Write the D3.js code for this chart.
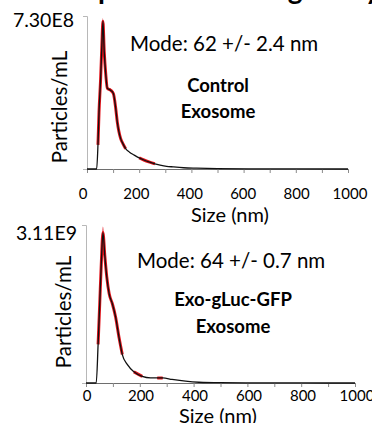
<!DOCTYPE html>
<html>
<head>
<meta charset="utf-8">
<script src="https://cdn.jsdelivr.net/npm/d3@7"></script>
<style>
  html, body { margin: 0; padding: 0; background: #fff; }
  svg { display: block; font-family: Lato, "Open Sans", sans-serif; }
</style>
</head>
<body>
<svg id="chart" width="372" height="423"></svg>
<script>
// ---- data (concentrations in units of 1e8 particles/mL) ----
const sizeTicks = [0, 200, 400, 600, 800, 1000];
const titleText = "Nanoparticle Tracking Analysis";

const controlSize = [0, 30, 37, 42, 46, 52, 57, 61, 66, 72, 78, 85, 91, 101, 110, 116, 122, 129, 138, 148, 163, 180, 200, 218, 240, 260, 280, 305, 330, 370, 420, 500, 620, 800, 1000];
const controlConc = [0, 0, 0, 1.15, 2.7, 4.25, 5.9, 7.05, 5.6, 4.5, 3.85, 3.8, 3.75, 3.6, 2.9, 2.25, 1.8, 1.45, 1.2, 0.97, 0.8, 0.67, 0.53, 0.43, 0.33, 0.25, 0.19, 0.13, 0.1, 0.06, 0.04, 0.02, 0.01, 0.01, 0];
const controlErr  = [0, 0, 0, 0.08, 0.15, 0.2, 0.2, 0.15, 0.1, 0.08, 0.08, 0.06, 0.08, 0.12, 0.12, 0.1, 0.06, 0.05, 0.04, 0.04, 0, 0, 0.03, 0.04, 0.04, 0.03, 0, 0, 0, 0, 0, 0, 0, 0, 0];
const controlMode = "Mode: 62 +/- 2.4 nm";
const controlName = ["Control", "Exosome"];
const controlMax = 7.3;
const controlMaxLabel = "7.30E8";

const glucSize = [0, 30, 38, 45, 51, 57, 63, 70, 77, 86, 98, 110, 123, 135, 154, 178, 209, 240, 265, 285, 320, 370, 420, 500, 620, 800, 1000];
const glucConc = [0, 0, 0, 7.6, 15.6, 23.7, 29.6, 25, 21, 17.6, 15.6, 13, 8.9, 5.6, 3.6, 2.2, 1.3, 1.0, 1.0, 1.0, 0.7, 0.35, 0.15, 0.06, 0.03, 0.01, 0];
const glucErr  = [0, 0, 0, 0.4, 0.5, 0.6, 1.2, 0.5, 0.3, 0.4, 0.3, 0.3, 0.2, 0.2, 0, 0.2, 0.2, 0, 0.2, 0.2, 0, 0, 0, 0, 0, 0, 0];
const glucMode = "Mode: 64 +/- 0.7 nm";
const glucName = ["Exo-gLuc-GFP", "Exosome"];
const glucMax = 31.1;
const glucMaxLabel = "3.11E9";

const svg = d3.select("#chart");

// slide title cut off by the crop, only descenders show.
// size it so 'p' and 'g' sit where they sit on the slide
const title = svg.append("text")
    .attr("x", 0)
    .attr("y", -1)
    .attr("font-size", 26)
    .attr("font-weight", 700)
    .attr("fill", "#000")
    .text(titleText);
{
    const node = title.node();
    const pIdx = titleText.indexOf("p"), gIdx = titleText.indexOf("g");
    const dist = node.getStartPositionOfChar(gIdx).x - node.getStartPositionOfChar(pIdx).x;
    title.attr("font-size", 26 * 190 / dist);
    title.attr("x", 98 - node.getStartPositionOfChar(pIdx).x);
}

function drawPanel(cfg) {
    const pts = cfg.sizes.map((s, i) => ({ s: s, c: cfg.conc[i], e: cfg.err[i] }));

    const x = d3.scaleLinear().domain([0, 1000]).range(cfg.xRange);
    const xLab = d3.scaleLinear().domain([0, 1000]).range(cfg.labelRange);
    const y = d3.scaleLinear().domain([0, cfg.max]).range(cfg.yRange);

    const g = svg.append("g");

    // y axis: light grey line with one tick at the max
    const yAxis = g.append("g")
        .attr("transform", `translate(${cfg.xRange[0]},0)`)
        .call(d3.axisLeft(y).tickValues([cfg.max]).tickSizeOuter(0).tickSize(4).tickFormat(""));
    yAxis.select(".domain").attr("stroke", "#b8b8b8");
    yAxis.selectAll(".tick line").attr("stroke", "#b8b8b8");

    g.append("text")
        .attr("x", cfg.maxLabelX)
        .attr("y", y(cfg.max) + cfg.maxLabelDy)
        .attr("text-anchor", "end")
        .attr("dominant-baseline", "middle")
        .attr("font-size", 19.5)
        .text(cfg.maxLabel);

    // x axis, ticks every 100 nm
    const xAxis = g.append("g")
        .attr("transform", `translate(0,${cfg.yRange[0]})`)
        .call(d3.axisBottom(x).tickValues(d3.range(0, 1001, 100)).tickSize(4).tickSizeOuter(0).tickFormat(""));
    xAxis.select(".domain").attr("stroke", "#6e6e6e");
    xAxis.selectAll(".tick line").attr("stroke", "#8a8a8a");

    // tick labels sit a bit off the tick marks, like on the slide
    g.selectAll(".xlab")
        .data(sizeTicks)
        .join("text")
        .attr("x", d => xLab(d))
        .attr("y", cfg.yRange[0] + cfg.tickLabelDy)
        .attr("text-anchor", "middle")
        .attr("dominant-baseline", "middle")
        .attr("font-size", 15)
        .text(d => d);

    g.append("text")
        .attr("x", cfg.sizeLabel[0])
        .attr("y", cfg.sizeLabel[1])
        .attr("text-anchor", "middle")
        .attr("dominant-baseline", "middle")
        .attr("font-size", 20)
        .text("Size (nm)");

    g.append("text")
        .attr("transform", `translate(${cfg.yLabel[0]},${cfg.yLabel[1]}) rotate(-90)`)
        .attr("text-anchor", "middle")
        .attr("dominant-baseline", "middle")
        .attr("font-size", 20.5)
        .text("Particles/mL");

    // red error band under the black mean line
    const band = d3.area()
        .defined(d => d.e > 0)
        .x(d => x(d.s))
        .y0(d => y(Math.max(0, d.c - d.e)))
        .y1(d => y(d.c + d.e))
        .curve(d3.curveMonotoneX);
    g.append("path").datum(pts).attr("d", band).attr("fill", "#e3141b");

    const redLine = d3.line()
        .defined(d => d.e > 0)
        .x(d => x(d.s))
        .y(d => y(d.c))
        .curve(d3.curveMonotoneX);
    g.append("path").datum(pts).attr("d", redLine)
        .attr("fill", "none").attr("stroke", "#e3141b").attr("stroke-width", 3);

    const line = d3.line()
        .x(d => x(d.s))
        .y(d => y(d.c))
        .curve(d3.curveMonotoneX);
    g.append("path").datum(pts).attr("d", line)
        .attr("fill", "none").attr("stroke", "#111").attr("stroke-width", 1.3);

    g.append("text")
        .attr("x", cfg.modePos[0])
        .attr("y", cfg.modePos[1])
        .attr("dominant-baseline", "middle")
        .attr("font-size", 20.5)
        .text(cfg.mode);

    g.selectAll(".name")
        .data(cfg.name)
        .join("text")
        .attr("x", cfg.namePos[0])
        .attr("y", (d, i) => cfg.namePos[1] + i * cfg.nameStep)
        .attr("text-anchor", "middle")
        .attr("dominant-baseline", "middle")
        .attr("font-size", 18.5)
        .attr("font-weight", 700)
        .text(d => d);
}

drawPanel({
    sizes: controlSize, conc: controlConc, err: controlErr,
    max: controlMax, maxLabel: controlMaxLabel,
    xRange: [87, 348], labelRange: [83, 350], yRange: [169, 16],
    maxLabelX: 74, maxLabelDy: 6, tickLabelDy: 26,
    sizeLabel: [230, 217], yLabel: [62, 107],
    mode: controlMode, modePos: [130, 46],
    name: controlName, namePos: [218, 87], nameStep: 26
});

drawPanel({
    sizes: glucSize, conc: glucConc, err: glucErr,
    max: glucMax, maxLabel: glucMaxLabel,
    xRange: [86, 355], labelRange: [87, 357], yRange: [383, 225],
    maxLabelX: 77, maxLabelDy: 10, tickLabelDy: 14,
    sizeLabel: [218, 418], yLabel: [66, 312],
    mode: glucMode, modePos: [137, 263],
    name: glucName, namePos: [233, 301], nameStep: 27
});
</script>
</body>
</html>
